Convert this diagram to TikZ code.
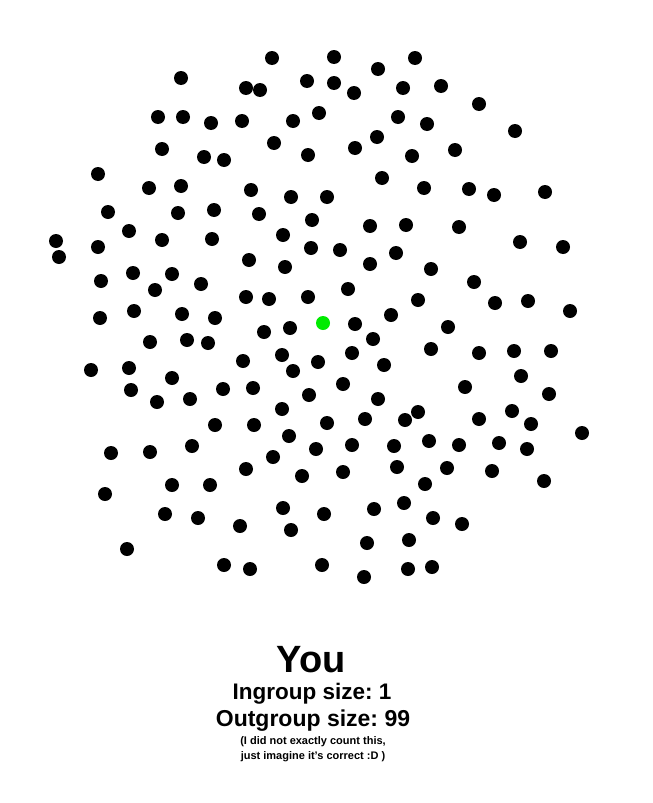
\documentclass[tikz,border=0pt]{standalone}
\usepackage{fontspec}
\setmainfont{Liberation Sans}
\frenchspacing
\definecolor{yougreen}{RGB}{0,235,0}
\tikzset{
  dot/.style={fill=black},
  me/.style={fill=yougreen},
  label/.style={font=\bfseries, inner sep=0pt, anchor=center}
}
\begin{document}
\begin{tikzpicture}[x=1pt,y=-1pt]
\useasboundingbox (0,0) rectangle (653,803);
\fill[white] (0,0) rectangle (653,803);
\foreach \x/\y in {
272/58,334/57,415/58,181/78,378/69,246/88,260/90,307/81,334/83,354/93,403/88,441/86,
158/117,183/117,211/123,242/121,293/121,319/113,398/117,427/124,479/104,515/131,
162/149,204/157,224/160,274/143,308/155,355/148,377/137,412/156,455/150,
98/174,382/178,149/188,181/186,251/190,291/197,327/197,424/188,469/189,494/195,545/192,
108/212,178/213,214/210,259/214,312/220,370/226,406/225,459/227,
129/231,283/235,56/241,59/257,162/240,212/239,98/247,311/248,340/250,396/253,520/242,563/247,
249/260,285/267,370/264,431/269,133/273,172/274,101/281,155/290,201/284,474/282,
246/297,269/299,308/297,348/289,418/300,495/303,528/301,570/311,
100/318,134/311,182/314,215/318,391/315,264/332,290/328,355/324,448/327,
150/342,187/340,208/343,373/339,282/355,352/353,431/349,479/353,514/351,551/351,
91/370,129/368,172/378,243/361,318/362,293/371,384/365,521/376,
131/390,157/402,190/399,223/389,253/388,343/384,309/395,378/399,465/387,549/394,
282/409,418/412,405/420,512/411,479/419,531/424,582/433,215/425,254/425,327/423,365/419,
111/453,150/452,192/446,289/436,316/449,352/445,394/446,429/441,459/445,499/443,527/449,
273/457,246/469,302/476,343/472,397/467,447/468,492/471,
105/494,172/485,210/485,425/484,544/481,
165/514,198/518,283/508,324/514,374/509,404/503,433/518,462/524,
240/526,291/530,367/543,409/540,127/549,
224/565,250/569,322/565,364/577,408/569,432/567}
  \fill[dot] (\x,\y) circle (7);
\fill[me] (323,323) circle (7);
\node[label, font=\bfseries\fontsize{38}{40}\selectfont] (you) at (311,660) {You};
\node[label, font=\bfseries\fontsize{22.5}{24}\selectfont] (in) at (312,694) {Ingroup size: 1};
\node[label, font=\bfseries\fontsize{23}{25}\selectfont] (out) at (313,721) {Outgroup size: 99};
\node[label, font=\bfseries\fontsize{11}{15}\selectfont, align=center] (note) at (313,749)
  {(I did not exactly count this,\\just imagine it's correct :D )};
\end{tikzpicture}
\end{document}
